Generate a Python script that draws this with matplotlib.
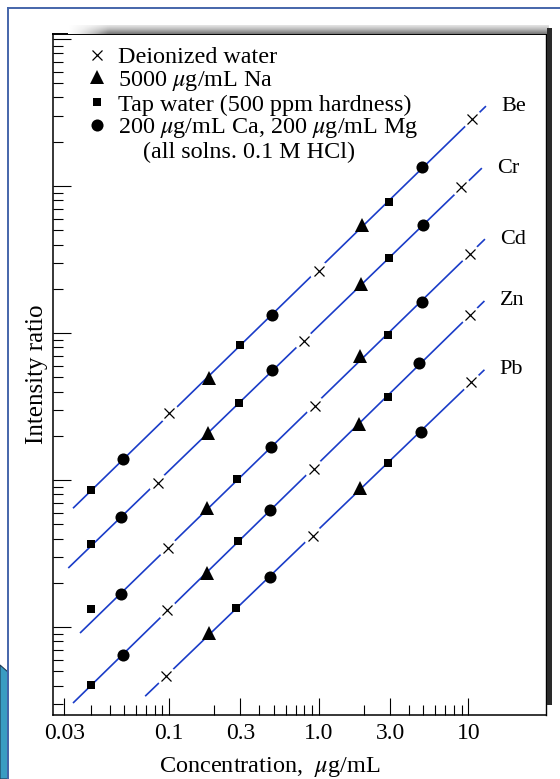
import numpy as np
import matplotlib
matplotlib.use('Agg')
import matplotlib.pyplot as plt
from matplotlib.lines import Line2D
from matplotlib.patches import Polygon
from matplotlib.ticker import FixedLocator, NullFormatter, LogLocator

plt.rcParams['font.family'] = ['Liberation Serif', 'DejaVu Serif']
plt.rcParams['mathtext.fontset'] = 'stix'

# ---------------- data ----------------
elements = ['Be', 'Cr', 'Cd', 'Zn', 'Pb']

# matrix of each point, in order of increasing concentration
matrix_seq = ['tap', 'camg', 'dw', 'na', 'tap', 'camg', 'dw', 'na', 'tap', 'camg', 'dw']

conc_be = [0.030, 0.049, 0.10, 0.185, 0.30, 0.49, 1.00, 1.95, 2.95, 4.9, 10.5]
ratio_be = [8.55, 13.8, 28.6, 49.2, 82.9, 132.6, 264, 543, 782, 1341, 2843]

conc_cr = [0.030, 0.048, 0.084, 0.183, 0.295, 0.49, 0.80, 1.93, 2.95, 5.0, 8.9]
ratio_cr = [3.65, 5.58, 9.61, 20.8, 33.6, 56.0, 88.7, 215, 322, 543, 977]

conc_cd = [0.030, 0.048, 0.098, 0.18, 0.285, 0.48, 0.94, 1.9, 2.9, 4.9, 10.3]
ratio_cd = [1.33, 1.68, 3.43, 6.42, 10.1, 16.7, 32.1, 69.8, 96.9, 163, 346]

conc_zn = [0.030, 0.049, 0.097, 0.18, 0.29, 0.47, 0.93, 1.85, 2.9, 4.7, 10.2]
ratio_zn = [0.401, 0.645, 1.30, 2.34, 3.87, 6.25, 11.9, 24.0, 36.9, 62.2, 132.6]

conc_pb = [0.096, 0.185, 0.28, 0.47, 0.92, 1.9, 2.9, 4.8, 10.4]
ratio_pb = [0.464, 0.906, 1.34, 2.18, 4.18, 8.78, 13.0, 21.3, 46.7]

# extent of each drawn calibration line (concentration)
line_start = [0.0228, 0.0212, 0.0254, 0.0228, 0.0692]
line_end = [13.1, 12.3, 12.9, 12.8, 12.8]

# points that the drawn line does not pass through (index per element)
off_line = {'Cd': [0]}

legend_keys = ['dw', 'na', 'tap', 'camg']
legend_labels = ['Deionized water',
                 '5000 $\\mu$g/mL Na',
                 'Tap water (500 ppm hardness)',
                 '200 $\\mu$g/mL Ca, 200 $\\mu$g/mL Mg']
note_text = '(all solns. 0.1 M HCl)'

xtick_pos = [0.02, 0.1, 0.3, 1.0, 3.0, 10]
xtick_labels = ['0.03', '0.1', '0.3', '1.0', '3.0', '10']
xminor_pos = [0.03, 0.04, 0.05, 0.06, 0.07, 0.08, 0.09, 0.2, 0.4, 0.5, 0.6,
              0.7, 0.8, 0.9, 2, 4, 5, 6, 7, 8, 9]

concs = [conc_be, conc_cr, conc_cd, conc_zn, conc_pb]
ratios = [ratio_be, ratio_cr, ratio_cd, ratio_zn, ratio_pb]
matrices = [matrix_seq, matrix_seq, matrix_seq, matrix_seq, matrix_seq[2:]]

# ---------------- styles ----------------
BLUE = '#1a3cc8'
styles = {
    'dw': dict(marker='x', ms=7, mew=0.9, color='black'),
    'na': dict(marker='^', ms=9.5, mew=0, color='black'),
    'tap': dict(marker='s', ms=6.2, mew=0, color='black'),
    'camg': dict(marker='o', ms=8.7, mew=0, color='black'),
}
FS = 17.4

fig = plt.figure(figsize=(5.6, 7.79), dpi=100)
W, H = 560.0, 779.0
ax = fig.add_axes([53 / W, 1 - 715 / H, (546 - 53) / W, (715 - 34) / H])
ax.set_xscale('log')
ax.set_yscale('log')
ax.set_xlim(0.01676, 33.0)
ax.set_ylim(0.252, 10815)

for i, el in enumerate(elements):
    c = np.array(concs[i], dtype=float)
    r = np.array(ratios[i], dtype=float)
    m = np.array(matrices[i])
    mask = np.ones(len(c), dtype=bool)
    for j in off_line.get(el, []):
        mask[j] = False
    p = np.polyfit(np.log10(c[mask]), np.log10(r[mask]), 1)
    xl = np.logspace(np.log10(line_start[i]), np.log10(line_end[i]), 60)
    yl = 10 ** np.polyval(p, np.log10(xl))
    ax.plot(xl, yl, color=BLUE, lw=1.2, zorder=2, solid_capstyle='butt')
    for key, st in styles.items():
        sel = m == key
        if not sel.any():
            continue
        if key == 'dw':
            ax.plot(c[sel], r[sel], ls='none', marker='o', ms=14.5,
                    mfc='white', mec='none', zorder=3)
        ax.plot(c[sel], r[sel], ls='none', zorder=4, **st)
    ax.annotate(el, xy=(line_end[i], 10 ** np.polyval(p, np.log10(line_end[i]))),
                xytext=(11, 0), textcoords='offset points', ha='left',
                va='center', fontsize=16)

# legend
handles = [Line2D([], [], ls='none', **styles[k]) for k in legend_keys]
ax.legend(handles, legend_labels, loc='upper left',
          bbox_to_anchor=(0.0650, 0.982), frameon=False, fontsize=FS,
          handlelength=1.0, handletextpad=0.37, labelspacing=0.03,
          borderpad=0, borderaxespad=0)
ax.text((143 - 53) / 493, (715 - 152) / 681, note_text, transform=ax.transAxes,
        fontsize=FS, ha='left', va='center')

# ticks
ax.xaxis.set_major_locator(FixedLocator(xtick_pos))
ax.set_xticklabels(xtick_labels)
ax.xaxis.set_minor_locator(FixedLocator(xminor_pos))
ax.xaxis.set_minor_formatter(NullFormatter())
ax.yaxis.set_major_locator(LogLocator(base=10, numticks=20))
ax.yaxis.set_minor_locator(LogLocator(base=10, subs=np.arange(2, 10), numticks=20))
ax.yaxis.set_major_formatter(NullFormatter())
ax.yaxis.set_minor_formatter(NullFormatter())
ax.tick_params(axis='x', which='major', direction='in', length=12, width=0.8,
               labelsize=17, pad=6, top=False)
ax.tick_params(axis='x', which='minor', direction='in', length=7.5, width=0.8,
               top=False)
ax.tick_params(axis='y', which='major', direction='in', length=13, width=0.8,
               right=False)
ax.tick_params(axis='y', which='minor', direction='in', length=7.5, width=0.8,
               right=False)

ax.set_xlabel('Concentration,  $\\mu$g/mL', fontsize=17.5, labelpad=7.5,
              x=(270 - 53) / 493)
ax.set_ylabel('Intensity ratio', fontsize=18, labelpad=0)

for s in ['left', 'bottom']:
    ax.spines[s].set_linewidth(1.1)
ax.spines['top'].set_linewidth(1.4)
ax.spines['right'].set_linewidth(1.0)

# ---------------- page decorations (scan / slide frame) ----------------
# gray shadow above the frame
gax = fig.add_axes([68 / W, 1 - 34 / H, (549 - 68) / W, 9 / H])
vert = np.linspace(0.2, 0.6, 10)[:, None]
horiz = np.clip(np.linspace(0, 1, 200) * 12, 0, 1)[None, :]
gax.imshow(vert * horiz, cmap='Greys', vmin=0, vmax=1, aspect='auto',
           interpolation='bilinear')
gax.axis('off')
# thick shadow on the right edge
fig.add_artist(Line2D([549 / W, 549 / W], [1 - 702 / H, 1 - 30 / H],
                      transform=fig.transFigure, color='#2a2a2a', lw=3.6))
# blue slide frame
fig.add_artist(Line2D([8 / W, 1], [1 - 8 / H, 1 - 8 / H],
                      transform=fig.transFigure, color='#4565aa', lw=1.4))
fig.add_artist(Line2D([8 / W, 8 / W], [0, 1 - 8 / H],
                      transform=fig.transFigure, color='#4565aa', lw=1.4))
fig.add_artist(Polygon([(0, 1 - 665 / H), (8 / W, 1 - 672 / H), (8 / W, 0), (0, 0)],
                       closed=True, transform=fig.transFigure,
                       facecolor='#3a9cc2', edgecolor='#1d3a55', lw=0.8))

fig.savefig('out.png', dpi=100)
